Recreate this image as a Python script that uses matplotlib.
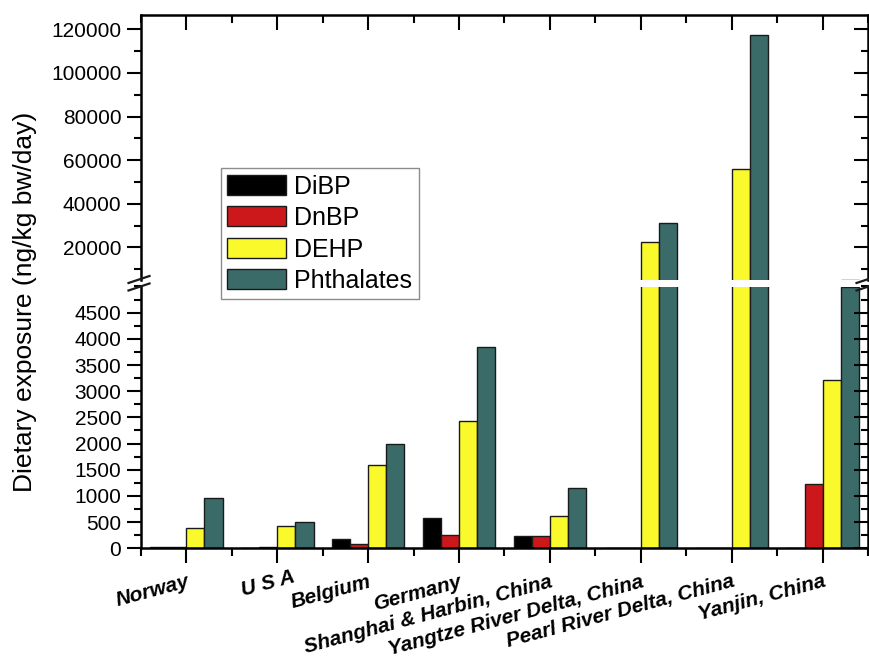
import numpy as np
import matplotlib
matplotlib.use('Agg')
import matplotlib.pyplot as plt
from matplotlib.lines import Line2D
from matplotlib.ticker import MultipleLocator
from matplotlib.transforms import ScaledTranslation

plt.rcParams['font.family'] = ['Liberation Sans', 'DejaVu Sans']

regions = ['Norway', 'U S A', 'Belgium', 'Germany', 'Shanghai & Harbin, China',
           'Yangtze River Delta, China', 'Pearl River Delta, China', 'Yanjin, China']
series = ['DiBP', 'DnBP', 'DEHP', 'Phthalates']
dibp = [30, 10, 170, 570, 240, 0, 0, 0]
dnbp = [30, 30, 80, 250, 240, 0, 0, 1230]
dehp = [390, 420, 1590, 2430, 620, 22500, 56000, 3220]
phthalates = [960, 510, 2000, 3840, 1150, 31300, 117500, 4990]
colors = ['#000000', '#cc181b', '#f9f92c', '#3b6b69']

W, H = 869, 657
fig = plt.figure(figsize=(W / 100, H / 100), dpi=100)

# axes boxes in pixels (left, top, right, bottom)
def box(l, t, r, b):
    return [l / W, 1 - b / H, (r - l) / W, (b - t) / H]

ax_hi = fig.add_axes(box(140.7, 14.7, 868.3, 280.0))
ax_lo = fig.add_axes(box(140.7, 286.5, 868.3, 548.3))

x = np.arange(len(regions))
width = 0.2
for ax in (ax_hi, ax_lo):
    for i, (vals, c) in enumerate(zip([dibp, dnbp, dehp, phthalates], colors)):
        ax.bar(x + (i - 1.5) * width, vals, width, color=c, edgecolor='#1a1a1a',
               linewidth=1.0, label=series[i])
    ax.set_xlim(-0.5, 7.5)
    ax.xaxis.set_minor_locator(MultipleLocator(0.5))
    for s in ax.spines.values():
        s.set_linewidth(1.8)
    ax.tick_params(axis='y', which='both', left=True, right=True, width=1.5)
    ax.tick_params(axis='y', which='major', length=10, labelsize=15, pad=4)
    ax.tick_params(axis='y', which='minor', length=5)

ax_lo.set_ylim(0, 5000)
ax_lo.yaxis.set_major_locator(MultipleLocator(500))
ax_lo.yaxis.set_minor_locator(MultipleLocator(250))
ax_lo.set_yticks(np.arange(0, 5000, 500))
ax_lo.spines['top'].set_visible(False)
ax_lo.tick_params(axis='x', which='both', bottom=True, top=False, direction='out', width=1.5)
ax_lo.tick_params(axis='x', which='major', length=11, pad=6)
ax_lo.tick_params(axis='x', which='minor', length=6)
ax_lo.tick_params(axis='y', which='both', direction='out')
ax_lo.set_xticks(x)
ax_lo.set_xticklabels(regions, rotation=15, ha='right', va='top', rotation_mode='anchor',
                      fontsize=15, fontweight='bold', fontstyle='italic')
for lab in ax_lo.get_xticklabels():
    if lab.get_text() == 'U S A':
        lab.set_transform(lab.get_transform() + ScaledTranslation(0.15, 0.045, fig.dpi_scale_trans))

ax_hi.set_ylim(5000, 126700)
ax_hi.yaxis.set_major_locator(MultipleLocator(20000))
ax_hi.yaxis.set_minor_locator(MultipleLocator(10000))
ax_hi.spines['bottom'].set_visible(False)
ax_hi.set_xticks(x)
ax_hi.tick_params(axis='x', which='both', bottom=False, top=True, labelbottom=False,
                  direction='in', width=1.5)
ax_hi.tick_params(axis='x', which='major', length=11)
ax_hi.tick_params(axis='x', which='minor', length=6)
ax_hi.tick_params(axis='y', which='both', direction='out')

# right-side ticks point inward
for ax in (ax_hi, ax_lo):
    for t in ax.yaxis.get_major_ticks() + ax.yaxis.get_minor_ticks():
        t.tick2line.set_marker(matplotlib.markers.TICKLEFT)

# break marks
for xc in (139.5, 867.5):
    for yc in (279.5, 287.0):
        fig.add_artist(Line2D([(xc - 11) / W, (xc + 10) / W],
                              [1 - (yc + 3.5) / H, 1 - (yc - 3.5) / H],
                              color='#1a1a1a', linewidth=1.6))

fig.text(25 / W, 1 - 302 / H, 'Dietary exposure (ng/kg bw/day)', rotation=90,
         ha='center', va='center', fontsize=19)

handles, labels = ax_hi.get_legend_handles_labels()
leg = fig.legend(handles, labels, loc='upper left',
                 bbox_to_anchor=(220.7 / W, 1 - 168.3 / H), borderaxespad=0,
                 fontsize=18, handlelength=2.35, handleheight=0.85,
                 handletextpad=0.35, labelspacing=0.3, borderpad=0.25,
                 fancybox=False, framealpha=1, edgecolor='#8c8c8c')
leg.get_frame().set_linewidth(1.0)

fig.savefig('out.png', dpi=100)
